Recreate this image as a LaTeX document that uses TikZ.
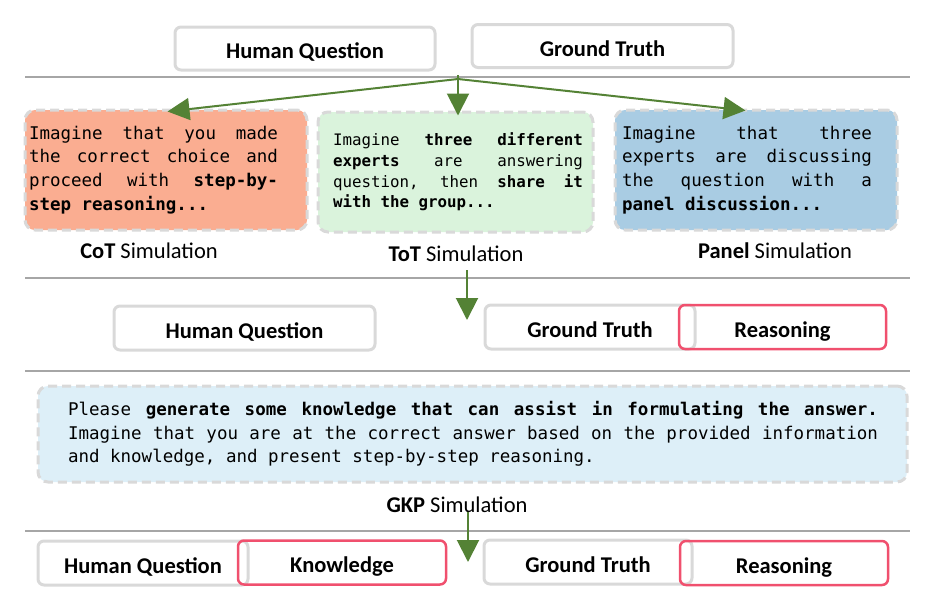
\documentclass[tikz,border=0pt]{standalone}
\usepackage{fontspec}
\setmainfont{Carlito}
\setmonofont{DejaVu Sans Mono}
\usepackage{tikz}
\usetikzlibrary{positioning, arrows.meta, calc}
\definecolor{cotfill}{HTML}{FAAD91}
\definecolor{totfill}{HTML}{DAF3DC}
\definecolor{panelfill}{HTML}{A9CCE3}
\definecolor{gkpfill}{HTML}{DDEFF8}
\definecolor{boxgray}{HTML}{D9D9D9}
\definecolor{rulegray}{HTML}{A6A6A6}
\definecolor{arrowgreen}{HTML}{548235}
\definecolor{hotpink}{HTML}{F0506E}
\newcommand{\fieldfont}{\fontsize{22.5}{26}\selectfont\bfseries}
\newcommand{\simfont}{\fontsize{22.5}{26}\selectfont}
\newcommand{\promptfont}{\ttfamily\fontsize{17.5}{23.7}\selectfont}
\newcommand{\smallpromptfont}{\ttfamily\fontsize{15.8}{20.7}\selectfont}
% justified lines with fixed margins inside a prompt box
\newcommand{\promptpar}[2]{\leftskip=#1\relax\rightskip=#2\relax
  \spaceskip=\fontdimen2\font plus 1fil\relax\xspaceskip=\spaceskip
  \parfillskip=0pt plus 1fill\relax}
\tikzset{
  field/.style    = {rectangle, rounded corners=6pt, draw=boxgray, line width=3pt,
                     fill=white, minimum height=43pt, text height=20pt, text depth=0pt,
                     font=\fieldfont},
  newfield/.style = {rectangle, rounded corners=6pt, draw=hotpink, line width=2.5pt,
                     minimum height=44pt, text height=20pt, text depth=0pt, font=\fieldfont},
  prompt/.style   = {rectangle, rounded corners=10pt, draw=boxgray, line width=3pt,
                     dash pattern=on 9pt off 5pt, inner sep=0pt,
                     minimum height=120pt, font=\promptfont},
  simlabel/.style = {font=\simfont},
  rule/.style     = {draw=rulegray, line width=2pt},
  arr/.style      = {-{Triangle[length=22pt,width=22pt]}, line width=2pt, draw=arrowgreen},
}
\begin{document}
\begin{tikzpicture}[x=1pt, y=-1pt]
  \useasboundingbox (0,0) rectangle (930,611);

  % Inputs
  \node[field, minimum width=260pt] (hq1) at (305,48.5) {Human Question};
  \node[field, minimum width=261pt] (gt1) at (602.5,46) {Ground Truth};
  \draw[rule] (25,77) -- (910,77);

  % Simulations
  \coordinate (hub) at (458,79);
  \node[prompt, fill=cotfill, text width=282pt] (cotbox) at (166,170)
       {\promptpar{4pt}{29pt}Imagine that you made\linebreak the correct choice and\linebreak
        proceed with \textbf{step-by-\linebreak step reasoning...}\par};
  \node[prompt, fill=totfill, text width=275pt, font=\smallpromptfont] (totbox) at (455.5,172)
       {\promptpar{15pt}{10pt}Imagine \textbf{three different}\linebreak \textbf{experts} are answering\linebreak
        question, then \textbf{share it\linebreak with the group...}\par};
  \node[prompt, fill=panelfill, text width=282pt] (panelbox) at (756,170)
       {\promptpar{7pt}{25pt}Imagine that three\linebreak experts are discussing\linebreak
        the question with a\linebreak \textbf{panel discussion...}\par};
  \node[simlabel] (cotlabel) at (149,251) {\textbf{CoT} Simulation};
  \node[simlabel] (totlabel) at (456,254) {\textbf{ToT} Simulation};
  \node[simlabel] (panellabel) at (775,251) {\textbf{Panel} Simulation};
  \draw[arr] (hub) -- ([shift={(144,3)}]cotbox.north west);
  \draw[arr, shorten >=-5pt] ([yshift=4pt]hub) -- (hub |- totbox.north);
  \draw[arr] (hub) -- ([shift={(132,2)}]panelbox.north west);
  \draw[rule] (25,278) -- (910,278);

  % Reasoning target
  \coordinate (gate1) at (467,320);
  \draw[arr, shorten <=5pt] (gate1 |- totlabel.south) -- (gate1);
  \node[field, minimum width=261pt, minimum height=44pt] (hq2) at (244.5,328) {Human Question};
  \node[field, minimum width=210pt, minimum height=44pt] (gt2) at (590,327) {Ground Truth};
  \node[newfield, minimum width=207pt] (rs2) at (782.5,327) {Reasoning};
  \draw[rule] (25,371) -- (910,371);

  % GKP
  \node[prompt, fill=gkpfill, text width=869pt, minimum height=96pt] (gkpbox) at (472.5,434)
       {\promptpar{30pt}{29pt}Please \textbf{generate some knowledge that can assist in formulating the answer.}\linebreak
        Imagine that you are at the correct answer based on the provided information\linebreak
        and knowledge, and present step-by-step reasoning.\par};
  \node[simlabel] (gkplabel) at (457,505) {\textbf{GKP} Simulation};
  \draw[rule] (25,531) -- (910,531);

  % Knowledge + reasoning target
  \coordinate (gate2) at (468,562);
  \draw[arr, shorten <=7pt] (gate2 |- gkplabel.center) -- (gate2);
  \node[field, minimum width=210pt, minimum height=44pt] (hq3) at (143,563) {Human Question};
  \node[newfield, minimum width=208pt] (kn3) at (342,562.5) {Knowledge};
  \node[field, minimum width=208pt, minimum height=44pt] (gt3) at (588,562) {Ground Truth};
  \node[newfield, minimum width=208pt] (rs3) at (784,563) {Reasoning};

\end{tikzpicture}
\end{document}
